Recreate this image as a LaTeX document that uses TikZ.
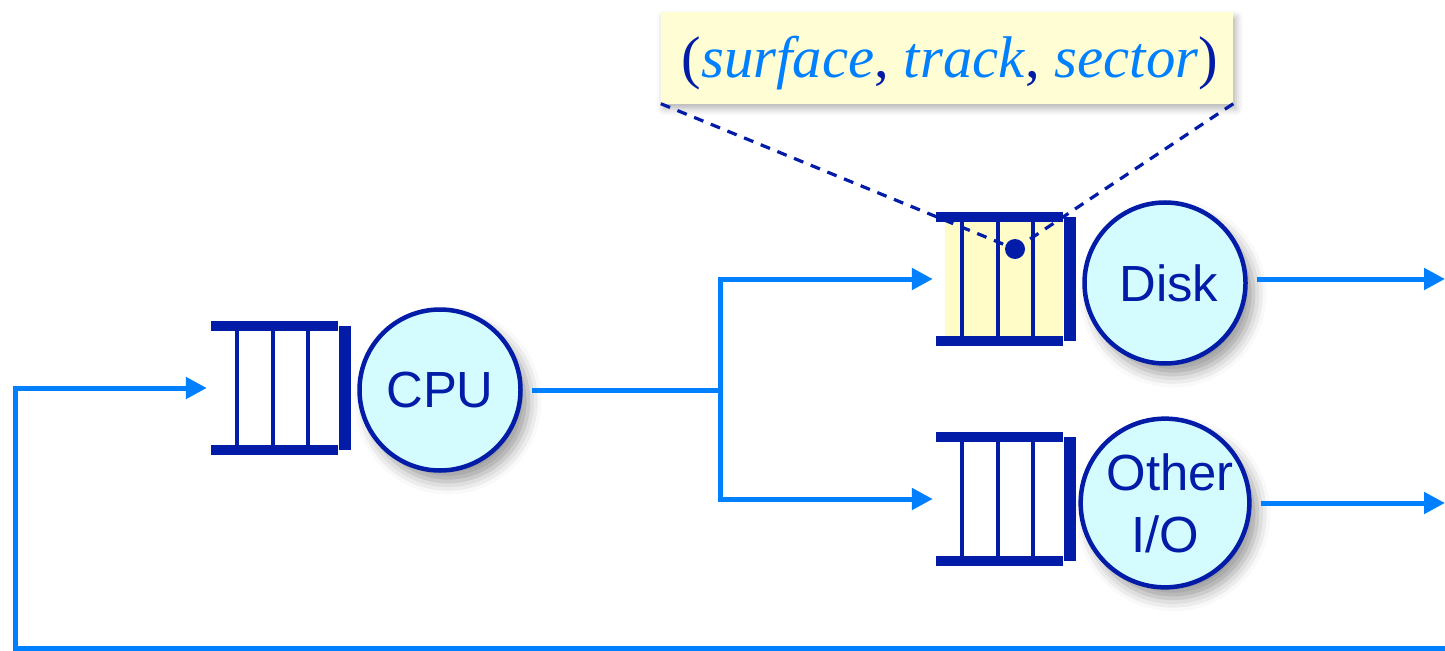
\documentclass[tikz,border=0pt]{standalone}
\usepackage{fontspec}
\setmainfont{Liberation Serif}
\newfontfamily\helv{Liberation Sans}
\usetikzlibrary{arrows.meta,shadows.blur}

\definecolor{navy}{RGB}{2,28,168}
\definecolor{flow}{RGB}{0,128,255}
\definecolor{serverfill}{RGB}{212,252,255}
\definecolor{notefill}{RGB}{255,253,212}
\definecolor{slotfill}{RGB}{255,252,200}

\tikzset{
  flowline/.style={draw=flow, line width=5bp, line join=miter},
  flowarrow/.style={flowline, -{Triangle[length=21bp,width=21bp]}},
  server/.style={circle, draw=navy, line width=4.5bp, fill=serverfill,
    minimum size=161bp, inner sep=0pt, align=center, text=navy,
    font=\helv\fontsize{51}{62}\selectfont,
    blur shadow={shadow xshift=8bp, shadow yshift=-11bp,
      shadow blur radius=13bp, shadow opacity=40}},
  qframe/.style={rectangle, minimum width=140bp, minimum height=134bp,
    inner sep=0pt},
  qline/.style={navy, line width=3.5bp},
  pointer/.style={navy, line width=3.2bp, dash pattern=on 10bp off 8bp},
  note/.style={rectangle, fill=notefill, minimum width=572bp,
    minimum height=91bp, inner sep=0pt, text=flow,
    font=\fontsize{59}{62}\selectfont,
    blur shadow={shadow xshift=3bp, shadow yshift=-5bp,
      shadow blur radius=7bp, shadow opacity=30}},
}

% queue: #1 name, #2 left x, #3 top y, #4 fill of the slots
\newcommand\queuebox[4]{%
  \node[qframe] (#1) at (#2+70,#3+67) {};
  \fill[#4] (#2+9,#3+10) rectangle (#2+127,#3+124);
  \fill[navy] (#2,#3) rectangle (#2+127,#3+10);
  \fill[navy] (#2,#3+124) rectangle (#2+127,#3+134);
  \foreach \dx in {26,62,97}
    \draw[qline] (#2+\dx,#3+10) -- (#2+\dx,#3+124);
  \fill[navy] (#2+128,#3+5) rectangle (#2+140,#3+129);
}

\begin{document}
\begin{tikzpicture}[x=1bp,y=-1bp]
  \useasboundingbox (0,0) rectangle (1445,651);

  % queues
  \queuebox{cpuq}{211}{321}{white}
  \queuebox{diskq}{936}{212}{slotfill}
  \queuebox{otherq}{936}{432}{white}

  % servers
  \node[server] (cpu) at (440,390) {CPU};
  \node[server] (disk) at (1165,283) {\hspace*{8bp}Disk};
  \node[server] (other) at (1165,503) {\hspace*{10bp}Other\\I/O};

  % request address callout (text baseline set 20bp below the box centre)
  \node[note] (addr) at (947,58)
    {\raisebox{-20bp}[0pt][0pt]{\hspace*{6bp}{\color{navy}(}\textit{surface\/}{\color{navy},} \textit{track}{\color{navy},} \textit{sector\/}{\color{navy})}}};
  \node[circle, fill=navy, minimum size=20bp, inner sep=0pt] (slot) at (1015,249) {};
  \draw[pointer] (addr.south west) -- (slot);
  \draw[pointer] (addr.south east) -- (slot);

  % routing points
  \coordinate (split) at (720,390);
  \coordinate (diskout) at (1445,279);
  \coordinate (otherout) at (1445,503);
  \coordinate (loopend) at (1445,648);
  \coordinate (loopcorner) at (15,648);
  \coordinate (entry) at (15,388);

  % flows
  \draw[flowline] ([xshift=9bp]cpu.east) -- (split);
  \draw[flowarrow] (split) |- ([xshift=-3bp]diskq.west);
  \draw[flowarrow] (split) |- ([xshift=-3bp]otherq.west);
  \draw[flowarrow] ([xshift=9bp]disk.east |- diskout) -- (diskout);
  \draw[flowarrow] ([xshift=9bp]other.east) -- (otherout);
  \draw[flowarrow] (loopend) -- (loopcorner) -- (entry) -- ([xshift=-4bp]cpuq.west);
\end{tikzpicture}
\end{document}
